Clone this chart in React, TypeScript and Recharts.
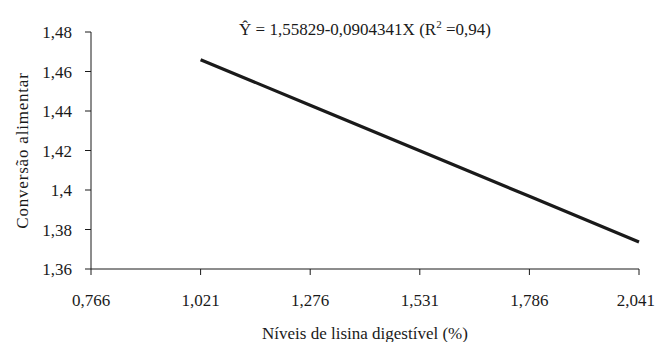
import { CartesianGrid, Line, LineChart, XAxis, YAxis } from "recharts";

const lysineLevels = [1.021, 1.276, 1.531, 1.786, 2.041];
const feedConversion = [1.4660, 1.4429, 1.4199, 1.3968, 1.3737];
const xTicks = [0.766, 1.021, 1.276, 1.531, 1.786, 2.041];
const yTicks = [1.36, 1.38, 1.4, 1.42, 1.44, 1.46, 1.48];

const data = lysineLevels.map((x, i) => ({ x, y: feedConversion[i] }));

const font = "Liberation Serif";
const ink = "#1a1a1a";
const comma = (v: number) => String(v).replace(".", ",");

const YTitle = ({ viewBox }: any) => {
  const cy = viewBox.y + viewBox.height / 2;
  return (
    <text
      x={22}
      y={cy}
      transform={`rotate(-90, 22, ${cy})`}
      textAnchor="middle"
      dominantBaseline="central"
      fontFamily={font}
      fontSize={17}
      fill={ink}
      letterSpacing={0.8}
    >
      Conversão alimentar
    </text>
  );
};

export default function App() {
  return (
    <div
      style={{
        position: "absolute",
        left: 0,
        top: 0,
        width: 655,
        height: 342,
        background: "#fff",
        fontFamily: font,
      }}
    >
      <div
        style={{
          position: "absolute",
          left: 0,
          width: 655,
          top: 14,
          paddingLeft: 75,
          boxSizing: "border-box",
          textAlign: "center",
          fontSize: 17,
          color: ink,
          lineHeight: "20px",
          fontFamily: font,
        }}
      >
        Ŷ = 1,55829-0,0904341X (R
        <sup style={{ fontSize: 11, verticalAlign: 7 }}>2</sup> =0,94)
      </div>
      <LineChart
        width={655}
        height={342}
        data={data}
        margin={{ top: 32, right: 16, left: 0, bottom: 0 }}
        style={{ fontFamily: font }}
      >
        <CartesianGrid stroke="none" />
        <XAxis
          dataKey="x"
          type="number"
          domain={[0.766, 2.041]}
          ticks={xTicks}
          tickFormatter={comma}
          height={73}
          stroke={ink}
          tickSize={6}
          tickMargin={19}
          tick={{ fill: ink, fontFamily: font, fontSize: 17 }}
          label={{
            value: "Níveis de lisina digestível (%)",
            position: "insideBottom",
            offset: 3,
            fill: ink,
            fontFamily: font,
            fontSize: 17,
          }}
        />
        <YAxis
          type="number"
          domain={[1.36, 1.48]}
          ticks={yTicks}
          tickFormatter={comma}
          width={91}
          stroke={ink}
          tickSize={6}
          tickMargin={13}
          tick={{ fill: ink, fontFamily: font, fontSize: 17 }}
          label={{ content: <YTitle /> }}
        />
        <Line
          dataKey="y"
          type="linear"
          stroke={ink}
          strokeWidth={3.2}
          dot={false}
          isAnimationActive={false}
        />
      </LineChart>
    </div>
  );
}
